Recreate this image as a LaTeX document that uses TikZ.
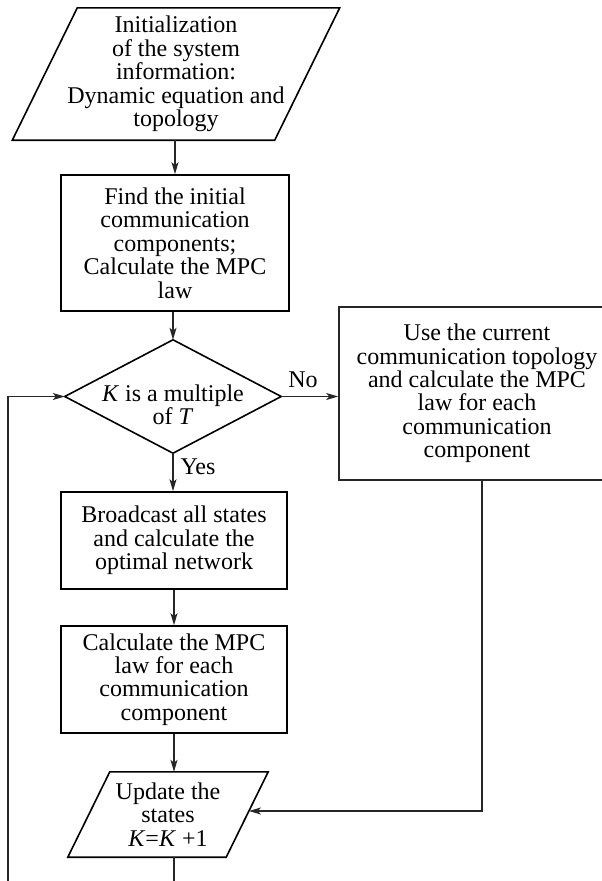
\documentclass[tikz,border=0pt]{standalone}
\usepackage{fontspec}
\setmainfont{Liberation Serif}
\usetikzlibrary{arrows.meta,calc}
\begin{document}
\begin{tikzpicture}[x=1pt,y=-1pt,
  txt/.style={inner sep=0pt,align=center,font=\fontsize{24}{23.4}\selectfont},
  shapeline/.style={line width=1.6pt,draw=black},
  boxnode/.style={txt,draw=black,line width=1.6pt,minimum width=#1},
  conn/.style={line width=1.2pt,draw=black!85,-{Stealth[length=12pt,width=7pt,inset=3pt]}},
  plain/.style={line width=1.2pt,draw=black!85},
  lbl/.style={inner sep=0pt,font=\fontsize{24}{23.4}\selectfont}]
\clip (0,0) rectangle (602,881);
\fill[white] (0,0) rectangle (602,881);

% initialization parallelogram
\node[txt,minimum width=262pt,minimum height=132pt] (init) at (176,74)
  {Initialization\\of the system\\information:\\Dynamic equation and\\topology};
\draw[shapeline] ([xshift=-32.5pt]init.south west) -- ([xshift=-32.5pt]init.south east)
  -- ([xshift=32.5pt]init.north east) -- ([xshift=32.5pt]init.north west) -- cycle;

% find box
\node[boxnode=228pt,minimum height=136pt] (find) at (175,243)
  {Find the initial\\communication\\components;\\Calculate the MPC\\law};

% decision diamond
\node[inner sep=0pt,minimum width=216pt,minimum height=113pt] (dec) at (173,396.5) {};
\draw[shapeline] (dec.north) -- (dec.east) -- (dec.south) -- (dec.west) -- cycle;
\node[txt,font=\fontsize{24}{19}\selectfont] (dectxt) at (173,405) {\textit{K} is a multiple\\of \textit{T}};

% right box
\node[boxnode=276pt,minimum height=173pt,draw=black!85] (use) at (477,393.5)
  {Use the current\\communication topology\\and calculate the MPC\\law for each\\communication\\component};

% broadcast box
\node[boxnode=226pt,minimum height=97pt] (broad) at (174,540.5)
  {Broadcast all states\\and calculate the\\optimal network};

% calculate box
\node[boxnode=226pt,minimum height=107pt] (calc) at (174,679.5)
  {Calculate the MPC\\law for each\\communication\\component};

% update parallelogram
\node[txt,minimum width=158pt,minimum height=85pt] (upd) at (168,814.5)
  {Update the\\states\\\textit{K}=\textit{K} +1};
\draw[shapeline] ([xshift=-21pt]upd.south west) -- ([xshift=-21pt]upd.south east)
  -- ([xshift=21pt]upd.north east) -- ([xshift=21pt]upd.north west) -- cycle;
\coordinate (updTR) at ([xshift=21pt]upd.north east);
\coordinate (updBR) at ([xshift=-21pt]upd.south east);
\coordinate (updR) at ($(updTR)!0.459!(updBR)$);

% labels
\node[lbl] (no) at (303,380) {No};
\node[lbl] (yes) at (198,467) {Yes};

% free ends
\coordinate (botmid) at (174,882);
\coordinate (botleft) at (8,882);

% connectors
\draw[conn] (init.south -| find.north) -- (find.north);
\draw[conn] (find.south -| dec.north) -- (dec.north);
\draw[conn] (dec.east) -- (dec.east -| use.west);
\draw[conn] (dec.south) -- (broad.north -| dec.south);
\draw[conn] (broad.south) -- (calc.north);
\draw[conn] (calc.south -| botmid) -- (upd.north -| botmid);
\draw[conn] ([xshift=5pt]use.south) |- (updR);
\draw[plain] (upd.south -| botmid) -- (botmid);
\draw[conn] (botleft) |- (dec.west);
\end{tikzpicture}
\end{document}
